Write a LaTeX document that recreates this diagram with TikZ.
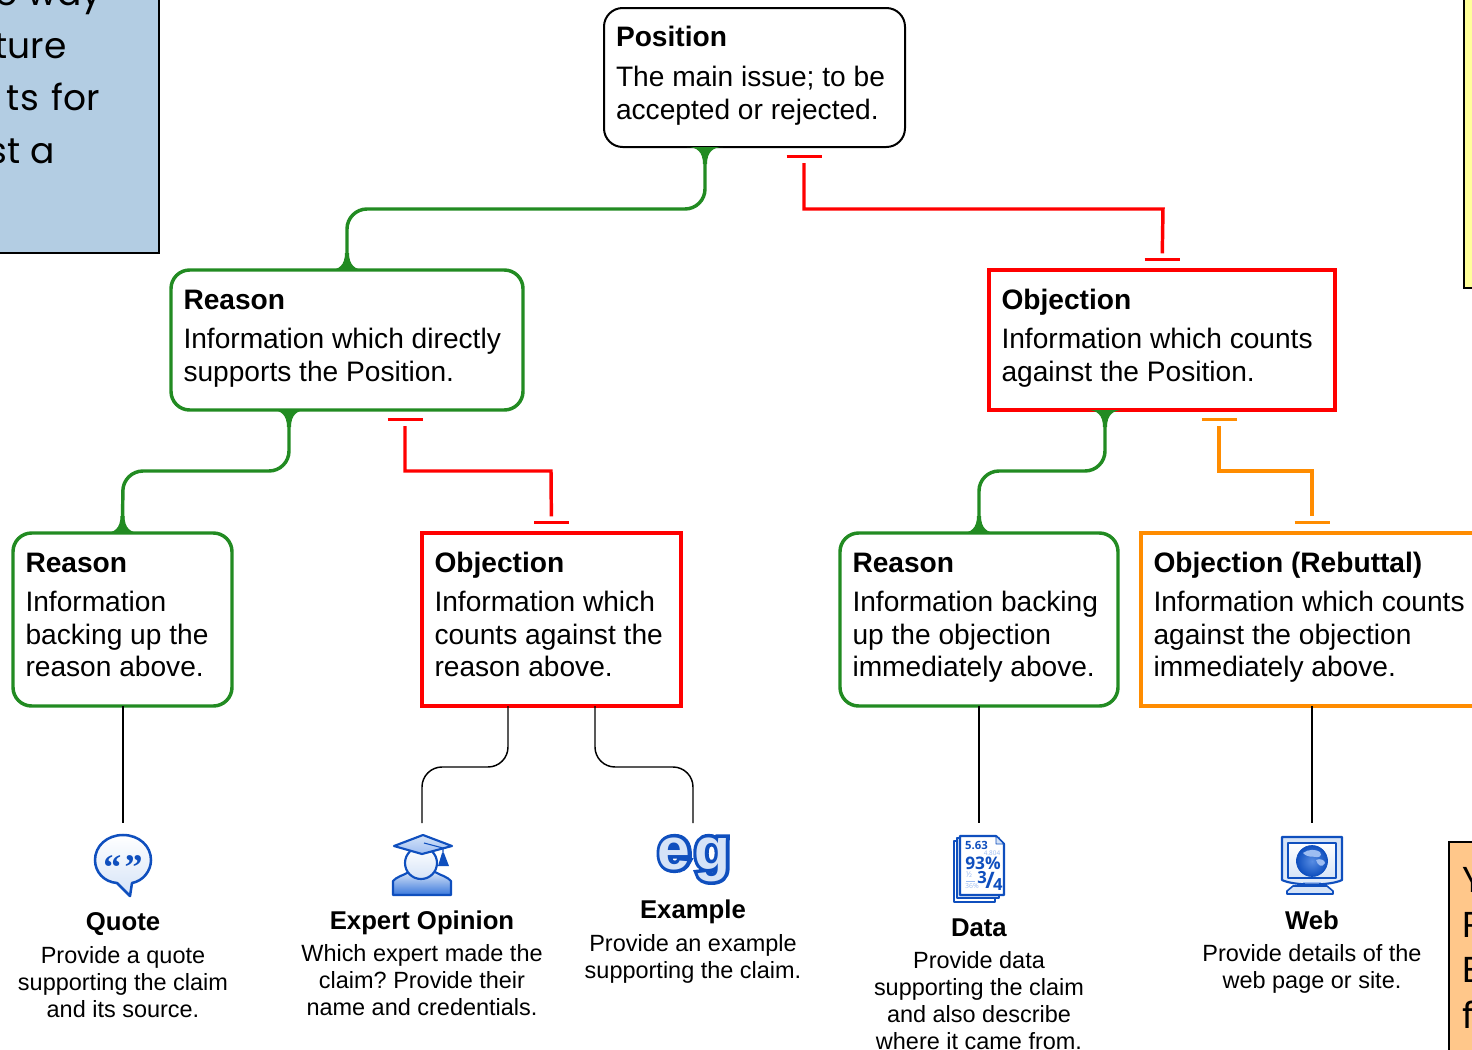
\documentclass[tikz,border=0pt]{standalone}
\usepackage{fontspec}
\setmainfont{Liberation Sans}
\newfontfamily\numf{Open Sans}
\newfontfamily\handf{Poppins}
\newfontfamily\quotef{Liberation Serif}
\newfontfamily\egthin{Liberation Sans Bold}
\newfontfamily\egthick[FakeBold=12]{Liberation Sans Bold}
\usetikzlibrary{arrows.meta,calc}
\definecolor{fgreen}{HTML}{228B22}
\definecolor{rebut}{HTML}{FF8C00}
\definecolor{noteblue}{HTML}{B3CDE3}
\definecolor{noteyellow}{HTML}{FFFF99}
\definecolor{noteorange}{HTML}{FFC78A}
\definecolor{iconblue}{HTML}{0F4FBE}
\definecolor{iconstrong}{HTML}{3A78DC}
\definecolor{iconmid}{HTML}{9DBDF2}
\definecolor{iconpale}{HTML}{D5E3F7}
\newlength\pxu \pxu=.75pt
\frenchspacing
\newcommand\boxt[5][39]{\parbox[c][#3\pxu][t]{#2\pxu}{\raggedright\fontsize{21.1}{24.4}\selectfont
  \rule{0pt}{#1\pxu}\textbf{#4}\par\vspace{\dimexpr46\pxu-#1\pxu\relax}\setlength\baselineskip{32.5\pxu}#5\par}}
\newcommand\capt[3][5.5]{\parbox[t]{300\pxu}{\centering\fontsize{17.6}{20.25}\selectfont
  \rule{0pt}{26\pxu}{\fontsize{19.3}{20}\selectfont\textbf{#2}}\par\vspace{#1\pxu}#3\par}}
\tikzset{
  x=.75pt,y=-.75pt,
  argbox/.style={draw=#1,line width=2.6pt,inner xsep=12.5\pxu,inner ysep=0pt,outer sep=0pt,anchor=north west,fill=white},
  roundb/.style={argbox=#1,rounded corners=14pt},
  capnode/.style={inner sep=0pt,anchor=north},
  support/.style={draw=fgreen,line width=2.6pt,rounded corners=15pt},
  oppose/.style={draw=#1,line width=2.6pt,shorten <=12pt,shorten >=12.5pt},
  teebar/.style={draw=#1,line width=2.8pt},
  thin link/.style={draw=black,line width=1.1pt,rounded corners=15pt},
  iconline/.style={draw=iconblue,line width=1.6pt,line join=round},
  sidebox/.style={draw=black,line width=1.9pt},
  handtext/.style={font=\handf\fontsize{27}{30}\selectfont,inner sep=0pt},
  flare/.pic={\fill (-18,0) .. controls (-8,0) and (-2,5) .. (-2,17) -- (2,17) .. controls (2,5) and (8,0) .. (18,0) -- cycle;}
}
% a bar just below a start point, and a bar just above an end point
\newcommand\barbelow[2]{\draw[teebar=#2] ([shift={(-17.5,9.5)}]#1) -- ([shift={(17.5,9.5)}]#1);}
\newcommand\barabove[2]{\draw[teebar=#2] ([shift={(-17.5,-10.5)}]#1) -- ([shift={(17.5,-10.5)}]#1);}
\begin{document}
\begin{tikzpicture}
\useasboundingbox (0,0) rectangle (1472,1050);
\clip (0,0) rectangle (1472,1050);

% side notes
\path[sidebox,fill=noteblue] (-20,-20) rectangle (159,253);
\node[handtext,anchor=base east] (s1) at (102,5) {he way};
\node[handtext,anchor=base east] (s2) at (67,58) {ture};
\node[handtext,anchor=base east] (s3) at (100,110) {ts\hspace{3\pxu} for};
\node[handtext,anchor=base east] (s4) at (55,163) {st a};
\path[sidebox,fill=noteyellow] (1464,-20) rectangle (1490,288);
\path[sidebox,fill=noteorange] (1449,842) rectangle (1490,1070);
\node[handtext,anchor=base west] (r1) at (1462,892) {Y};
\node[handtext,anchor=base west] (r2) at (1462,937) {R};
\node[handtext,anchor=base west] (r3) at (1462,982) {E};
\node[handtext,anchor=base west] (r4) at (1462,1028) {f};

% boxes
\node[roundb=black,line width=1.5pt,inner xsep=12\pxu] (pos) at (604,8) {\boxt[38]{277}{139}{Position}{The main issue; to be\\accepted or rejected.}};
\node[roundb=fgreen] (r) at (171,270) {\boxt{327}{140}{Reason}{Information which directly\\supports the Position.}};
\node[argbox=red] (o) at (989,270) {\boxt{321}{140}{Objection}{Information which counts\\against the Position.}};
\node[roundb=fgreen] (rr) at (13,533) {\boxt{194}{173}{Reason}{Information\\backing up the\\reason above.}};
\node[argbox=red] (ro) at (422,533) {\boxt{234}{173}{Objection}{Information which\\counts against the\\reason above.}};
\node[roundb=fgreen] (or) at (840,533) {\boxt{253}{173}{Reason}{Information backing\\up the objection\\immediately above.}};
\node[argbox=rebut] (oo) at (1141,533) {\boxt{340}{173}{Objection (Rebuttal)}{Information which counts\\against the objection\\immediately above.}};

% captions
\node[capnode] (cq) at (123,904) {\capt[6.5]{Quote}{Provide a quote\\supporting the claim\\and its source.}};
\node[capnode] (ce) at (422,903) {\capt{Expert Opinion}{Which expert made the\\claim? Provide their\\name and credentials.}};
\node[capnode] (cx) at (693,892) {\capt[6.5]{Example}{Provide an example\\supporting the claim.}};
\node[capnode] (cd) at (979,910) {\capt{Data}{Provide data\\supporting the claim\\and also describe\\where it came from.}};
\node[capnode] (cw) at (1312,903) {\capt{Web}{Provide details of the\\web page or site.}};

% connector ends above the icons
\coordinate (iq) at (123,823);
\coordinate (ie) at (422,823);
\coordinate (ix) at (693,823);
\coordinate (id) at (979,823);
\coordinate (iw) at (1312,823);

% argument connectors
\coordinate (s1a) at (705,0 |- pos.south);
\coordinate (o1a) at (804,0 |- pos.south);
\coordinate (s2a) at (289,0 |- r.south);
\coordinate (o2a) at (405,0 |- r.south);
\coordinate (s3a) at (1105,0 |- o.south);
\coordinate (o3a) at (1219,0 |- o.south);
\coordinate (o3b) at (1312,0 |- oo.north);
\draw[support] (s1a) -- (705,209) -- (347,209) -- (r.north);
\draw[oppose=red] (o1a) -- (804,209) -- (1163,209) -- (o.north);
\barbelow{o1a}{red}\barabove{o.north}{red}
\draw[support] (s2a) -- (289,471) -- (123,471) -- (rr.north);
\draw[oppose=red] (o2a) -- (405,471) -- (551,471) -- (ro.north);
\barbelow{o2a}{red}\barabove{ro.north}{red}
\draw[support] (s3a) -- (1105,471) -- (979,471) -- (or.north);
\draw[oppose=rebut] (o3a) -- (1219,471) -- (1312,471) -- (o3b);
\barbelow{o3a}{rebut}\barabove{o3b}{rebut}
\begin{scope}[fgreen]
\path (s1a) pic {flare};
\path (r.north) pic[yscale=-1] {flare};
\path (s2a) pic {flare};
\path (rr.north) pic[yscale=-1] {flare};
\path (s3a) pic {flare};
\path (or.north) pic[yscale=-1] {flare};
\end{scope}

% evidence connectors
\draw[thin link] (123,0 |- rr.south) -- (iq);
\draw[thin link] (508,0 |- ro.south) -- (508,767) -- (422,767) -- (ie);
\draw[thin link] (595,0 |- ro.south) -- (595,767) -- (693,767) -- (ix);
\draw[thin link] (979,0 |- or.south) -- (id);
\draw[thin link] (1312,0 |- oo.south) -- (iw);

% quote icon
\path[iconline,top color=white,bottom color=iconpale,line width=1.9pt]
  (117,883) .. controls (104,882) and (95,872) .. (95,860)
  .. controls (95,846) and (107,835) .. (123,835)
  .. controls (139,835) and (151,846) .. (151,860)
  .. controls (151,871) and (143,881) .. (132,883)
  -- (130,896) -- cycle;
\node[inner sep=0pt,text=iconblue,anchor=base] (qm) at (123,879) {\quotef\fontsize{27}{27}\selectfont\bfseries “\kern2.5pt”};

% expert icon
\path[iconline,top color=iconpale,bottom color=iconstrong]
  (393,895) -- (393,881) .. controls (396,877) and (404,875) .. (409,872)
  -- (435,872) .. controls (440,875) and (448,877) .. (451,881) -- (451,895) -- cycle;
\path[iconline,top color=white,bottom color=iconpale] (421,863) circle (16);
\path[iconline,top color=iconpale,bottom color=iconmid] (394,846) -- (423,835) -- (452,846) -- (422,854) -- cycle;
\path[draw=iconblue,line width=.8pt] (424,843) -- (443,848) -- (443,858);
\fill[iconblue] (442,853) -- (444,853) -- (449,866) -- (438,866) -- cycle;

% example icon
\node[inner sep=0pt,text=iconblue,anchor=base] (eg1) at (694,869) {\egthick\fontsize{44}{44}\selectfont e\kern3pt g};
\node[inner sep=0pt,text=iconpale,anchor=base] (eg2) at (694,869) {\egthin\fontsize{44}{44}\selectfont e\kern3pt g};

% data icon
\path[iconline,fill=white] (954,841) rectangle (995,902);
\path[iconline,fill=iconpale] (957,838) rectangle (999,898);
\path[iconline,fill=white] (960,836) -- (996,836) -- (1004,844) -- (1004,895) -- (960,895) -- cycle;
\path[iconline,line width=.6pt,fill=iconpale] (996,836) -- (996,844) -- (1004,844) -- cycle;
\begin{scope}[every node/.style={inner sep=0pt,font=\numf}]
\node[text=iconblue] (d1) at (976.5,845) {\fontsize{8.5}{9}\selectfont\bfseries 5.63};
\node[text=iconmid] (d2) at (992,853) {\fontsize{4.8}{5}\selectfont 4.804};
\node[text=iconblue] (d3) at (983,863) {\fontsize{13}{14}\selectfont\bfseries 93\%};
\node[text=iconmid] (d4) at (969,875) {\fontsize{6}{6}\selectfont ½};
\draw[iconmid,line width=.5pt] (966,881) -- (975,881);
\node[text=iconmid] (d5) at (972,886.5) {\fontsize{5.2}{5}\selectfont 36\%};
\node[text=iconblue] (d6) at (990,881) {\fontsize{12.5}{14}\selectfont\bfseries\raisebox{3\pxu}{3}\kern-1.5\pxu\raisebox{-1.5\pxu}{\fontsize{17}{17}\selectfont/}\kern-1.5\pxu\raisebox{-4\pxu}{4}};
\end{scope}

% web icon
\path[iconline,fill=iconpale,line width=1.2pt] (1293,886) -- (1327,886) -- (1333,891) -- (1333,894) -- (1287,894) -- (1287,891) -- cycle;
\path[iconline,top color=iconpale,bottom color=iconpale!70!white] (1282,837) -- (1342,837) -- (1342,880) .. controls (1330,886) and (1294,886) .. (1282,880) -- cycle;
\path[iconline,top color=white,bottom color=iconpale] (1288,843) rectangle (1336,878);
\shade[inner color=iconstrong!70!iconmid,outer color=iconblue,draw=iconblue,line width=.5pt] (1312,861) circle (15.5);
\fill[iconmid] (1303,853) .. controls (1308,849) and (1316,849) .. (1320,852) .. controls (1323,856) and (1318,858) .. (1316,857) .. controls (1312,856) and (1308,858) .. cycle;
\fill[iconmid] (1316,860) .. controls (1320,858) and (1325,860) .. (1325,863) .. controls (1322,868) and (1318,866) .. cycle;
\draw[iconmid,line width=.6pt] (1303,882) -- (1321,882);
\end{tikzpicture}
\end{document}
